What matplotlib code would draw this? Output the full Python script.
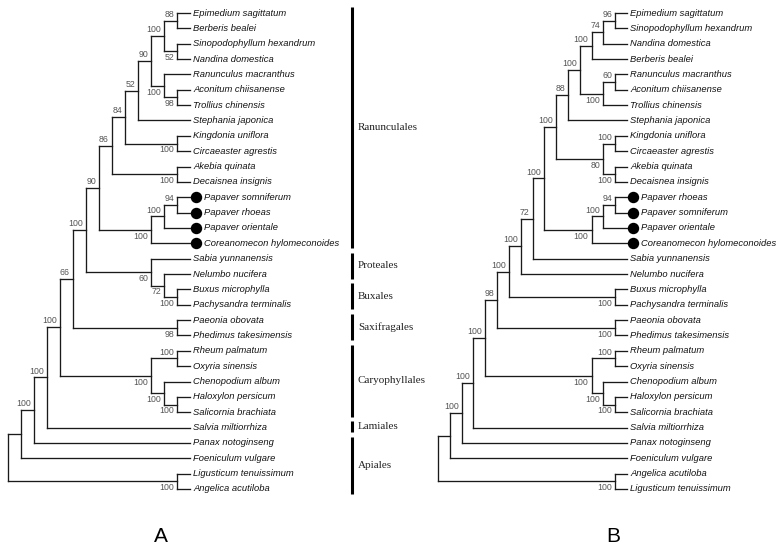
import matplotlib
matplotlib.use('Agg')
import matplotlib.pyplot as plt
from matplotlib.collections import LineCollection
from matplotlib.transforms import offset_copy

# tip order, top to bottom
tips_a = [
    "Epimedium sagittatum", "Berberis bealei", "Sinopodophyllum hexandrum", "Nandina domestica",
    "Ranunculus macranthus", "Aconitum chiisanense", "Trollius chinensis", "Stephania japonica",
    "Kingdonia uniflora", "Circaeaster agrestis", "Akebia quinata", "Decaisnea insignis",
    "Papaver somniferum", "Papaver rhoeas", "Papaver orientale", "Coreanomecon hylomeconoides",
    "Sabia yunnanensis", "Nelumbo nucifera", "Buxus microphylla", "Pachysandra terminalis",
    "Paeonia obovata", "Phedimus takesimensis", "Rheum palmatum", "Oxyria sinensis",
    "Chenopodium album", "Haloxylon persicum", "Salicornia brachiata", "Salvia miltiorrhiza",
    "Panax notoginseng", "Foeniculum vulgare", "Ligusticum tenuissimum", "Angelica acutiloba",
]
tips_b = [
    "Epimedium sagittatum", "Sinopodophyllum hexandrum", "Nandina domestica", "Berberis bealei",
    "Ranunculus macranthus", "Aconitum chiisanense", "Trollius chinensis", "Stephania japonica",
    "Kingdonia uniflora", "Circaeaster agrestis", "Akebia quinata", "Decaisnea insignis",
    "Papaver rhoeas", "Papaver somniferum", "Papaver orientale", "Coreanomecon hylomeconoides",
    "Sabia yunnanensis", "Nelumbo nucifera", "Buxus microphylla", "Pachysandra terminalis",
    "Paeonia obovata", "Phedimus takesimensis", "Rheum palmatum", "Oxyria sinensis",
    "Chenopodium album", "Haloxylon persicum", "Salicornia brachiata", "Salvia miltiorrhiza",
    "Panax notoginseng", "Foeniculum vulgare", "Angelica acutiloba", "Ligusticum tenuissimum",
]
papaveraceae = ["Papaver somniferum", "Papaver rhoeas", "Papaver orientale", "Coreanomecon hylomeconoides"]

# internal node = (bootstrap, upper child, lower child)
caryo = (100, (100, "Rheum palmatum", "Oxyria sinensis"),
         (100, "Chenopodium album", (100, "Haloxylon persicum", "Salicornia brachiata")))

# tree A
berb_a = (100, (88, "Epimedium sagittatum", "Berberis bealei"),
          (52, "Sinopodophyllum hexandrum", "Nandina domestica"))
ranc_a = (100, "Ranunculus macranthus", (98, "Aconitum chiisanense", "Trollius chinensis"))
core_a = (86, (84, (52, (90, berb_a, ranc_a), "Stephania japonica"),
               (100, "Kingdonia uniflora", "Circaeaster agrestis")),
          (100, "Akebia quinata", "Decaisnea insignis"))
papa_a = (100, (100, (94, "Papaver somniferum", "Papaver rhoeas"), "Papaver orientale"),
          "Coreanomecon hylomeconoides")
prot_a = (60, "Sabia yunnanensis",
          (72, "Nelumbo nucifera", (100, "Buxus microphylla", "Pachysandra terminalis")))
mid_a = (66, (100, (90, core_a, papa_a), prot_a), (98, "Paeonia obovata", "Phedimus takesimensis"))
tree_a = (None, (None, (100, (100, (100, mid_a, caryo), "Salvia miltiorrhiza"), "Panax notoginseng"),
                 "Foeniculum vulgare"),
          (100, "Ligusticum tenuissimum", "Angelica acutiloba"))

# tree B
berb_b = (100, (74, (96, "Epimedium sagittatum", "Sinopodophyllum hexandrum"), "Nandina domestica"),
          "Berberis bealei")
ranc_b = (100, (60, "Ranunculus macranthus", "Aconitum chiisanense"), "Trollius chinensis")
core_b = (100, (88, (100, berb_b, ranc_b), "Stephania japonica"),
          (80, (100, "Kingdonia uniflora", "Circaeaster agrestis"),
           (100, "Akebia quinata", "Decaisnea insignis")))
papa_b = (100, (100, (94, "Papaver rhoeas", "Papaver somniferum"), "Papaver orientale"),
          "Coreanomecon hylomeconoides")
mid_b = (98, (100, (100, (72, (100, core_b, papa_b), "Sabia yunnanensis"), "Nelumbo nucifera"),
              (100, "Buxus microphylla", "Pachysandra terminalis")),
         (100, "Paeonia obovata", "Phedimus takesimensis"))
tree_b = (None, (None, (100, (100, (100, mid_b, caryo), "Salvia miltiorrhiza"), "Panax notoginseng"),
                 "Foeniculum vulgare"),
          (100, "Angelica acutiloba", "Ligusticum tenuissimum"))

clade_names = ["Ranunculales", "Proteales", "Buxales", "Saxifragales", "Caryophyllales", "Lamiales", "Apiales"]
clade_first = ["Epimedium sagittatum", "Sabia yunnanensis", "Buxus microphylla", "Paeonia obovata",
               "Rheum palmatum", "Salvia miltiorrhiza", "Panax notoginseng"]
clade_last = ["Coreanomecon hylomeconoides", "Nelumbo nucifera", "Pachysandra terminalis",
              "Phedimus takesimensis", "Salicornia brachiata", "Salvia miltiorrhiza", "Angelica acutiloba"]

LINE = '#1a1a1a'
TIP_SIZE = 6.75
W, H = 777, 551


def height(node):
    if isinstance(node, str):
        return 0
    return 1 + max(height(node[1]), height(node[2]))


def draw_tree(fig, ax, tree, tips):
    depth = height(tree)
    segs = []
    label_tr = offset_copy(ax.transData, fig=fig, x=2.2, y=0, units='points')
    dot_tr = offset_copy(ax.transData, fig=fig, x=4.4, y=0, units='points')
    dot_label_tr = offset_copy(ax.transData, fig=fig, x=9.8, y=0, units='points')

    def rec(node, parent_x, upper):
        if isinstance(node, str):
            y = tips.index(node)
            segs.append([(parent_x, y), (depth, y)])
            if node in papaveraceae:
                ax.plot(depth, y, 'o', color='black', ms=7.2, transform=dot_tr, clip_on=False)
                ax.text(depth, y, node, transform=dot_label_tr, style='italic', fontsize=TIP_SIZE,
                        family='Liberation Sans', va='center', ha='left', color='#111')
            else:
                ax.text(depth, y, node, transform=label_tr, style='italic', fontsize=TIP_SIZE,
                        family='Liberation Sans', va='center', ha='left', color='#111')
            return y
        support, c1, c2 = node
        x = depth - height(node)
        y1 = rec(c1, x, True)
        y2 = rec(c2, x, False)
        y = (y1 + y2) / 2
        segs.append([(x, y1), (x, y2)])
        if parent_x is not None:
            segs.append([(parent_x, y), (x, y)])
        if support is not None:
            ax.annotate(str(support), (x, y), xytext=(-2.2, 4.6 if upper else -4.6),
                        textcoords='offset points', ha='right', va='center', fontsize=6.3,
                        family=['Liberation Sans Narrow', 'Liberation Sans'], color='#555')
        return y

    rec(tree, None, True)
    lc = LineCollection(segs, colors=LINE, linewidths=0.95, capstyle='projecting', clip_on=False)
    ax.add_collection(lc)
    ax.set_xlim(0, depth)
    ax.set_ylim(len(tips) - 1, 0)
    ax.axis('off')


fig = plt.figure(figsize=(7.77, 5.51), dpi=100)
ax_a = fig.add_axes([8 / W, 1 - 489 / H, 182 / W, 476 / H])
ax_b = fig.add_axes([438 / W, 1 - 489 / H, 189 / W, 476 / H])
draw_tree(fig, ax_a, tree_a, tips_a)
draw_tree(fig, ax_b, tree_b, tips_b)

# order brackets beside tree A
bar_x = (352 - 8) / 182
name_x = (358 - 8) / 182
tr = ax_a.get_yaxis_transform()
for name, first, last in zip(clade_names, clade_first, clade_last):
    y0 = tips_a.index(first) - 0.4
    y1 = tips_a.index(last) + 0.3
    ax_a.plot([bar_x, bar_x], [y0, y1], color='black', lw=2.2, solid_capstyle='butt',
              transform=tr, clip_on=False)
    ax_a.text(name_x, (y0 + y1) / 2, name, transform=tr, fontsize=8, family='Liberation Serif',
              va='center', ha='left', color='#222')

fig.text(161 / W, 1 - 536 / H, "A", fontsize=15, family='Liberation Sans', ha='center', va='center')
fig.text(613 / W, 1 - 537 / H, "B", fontsize=15, family='Liberation Sans', ha='center', va='center')

fig.savefig('out.png', dpi=100)
